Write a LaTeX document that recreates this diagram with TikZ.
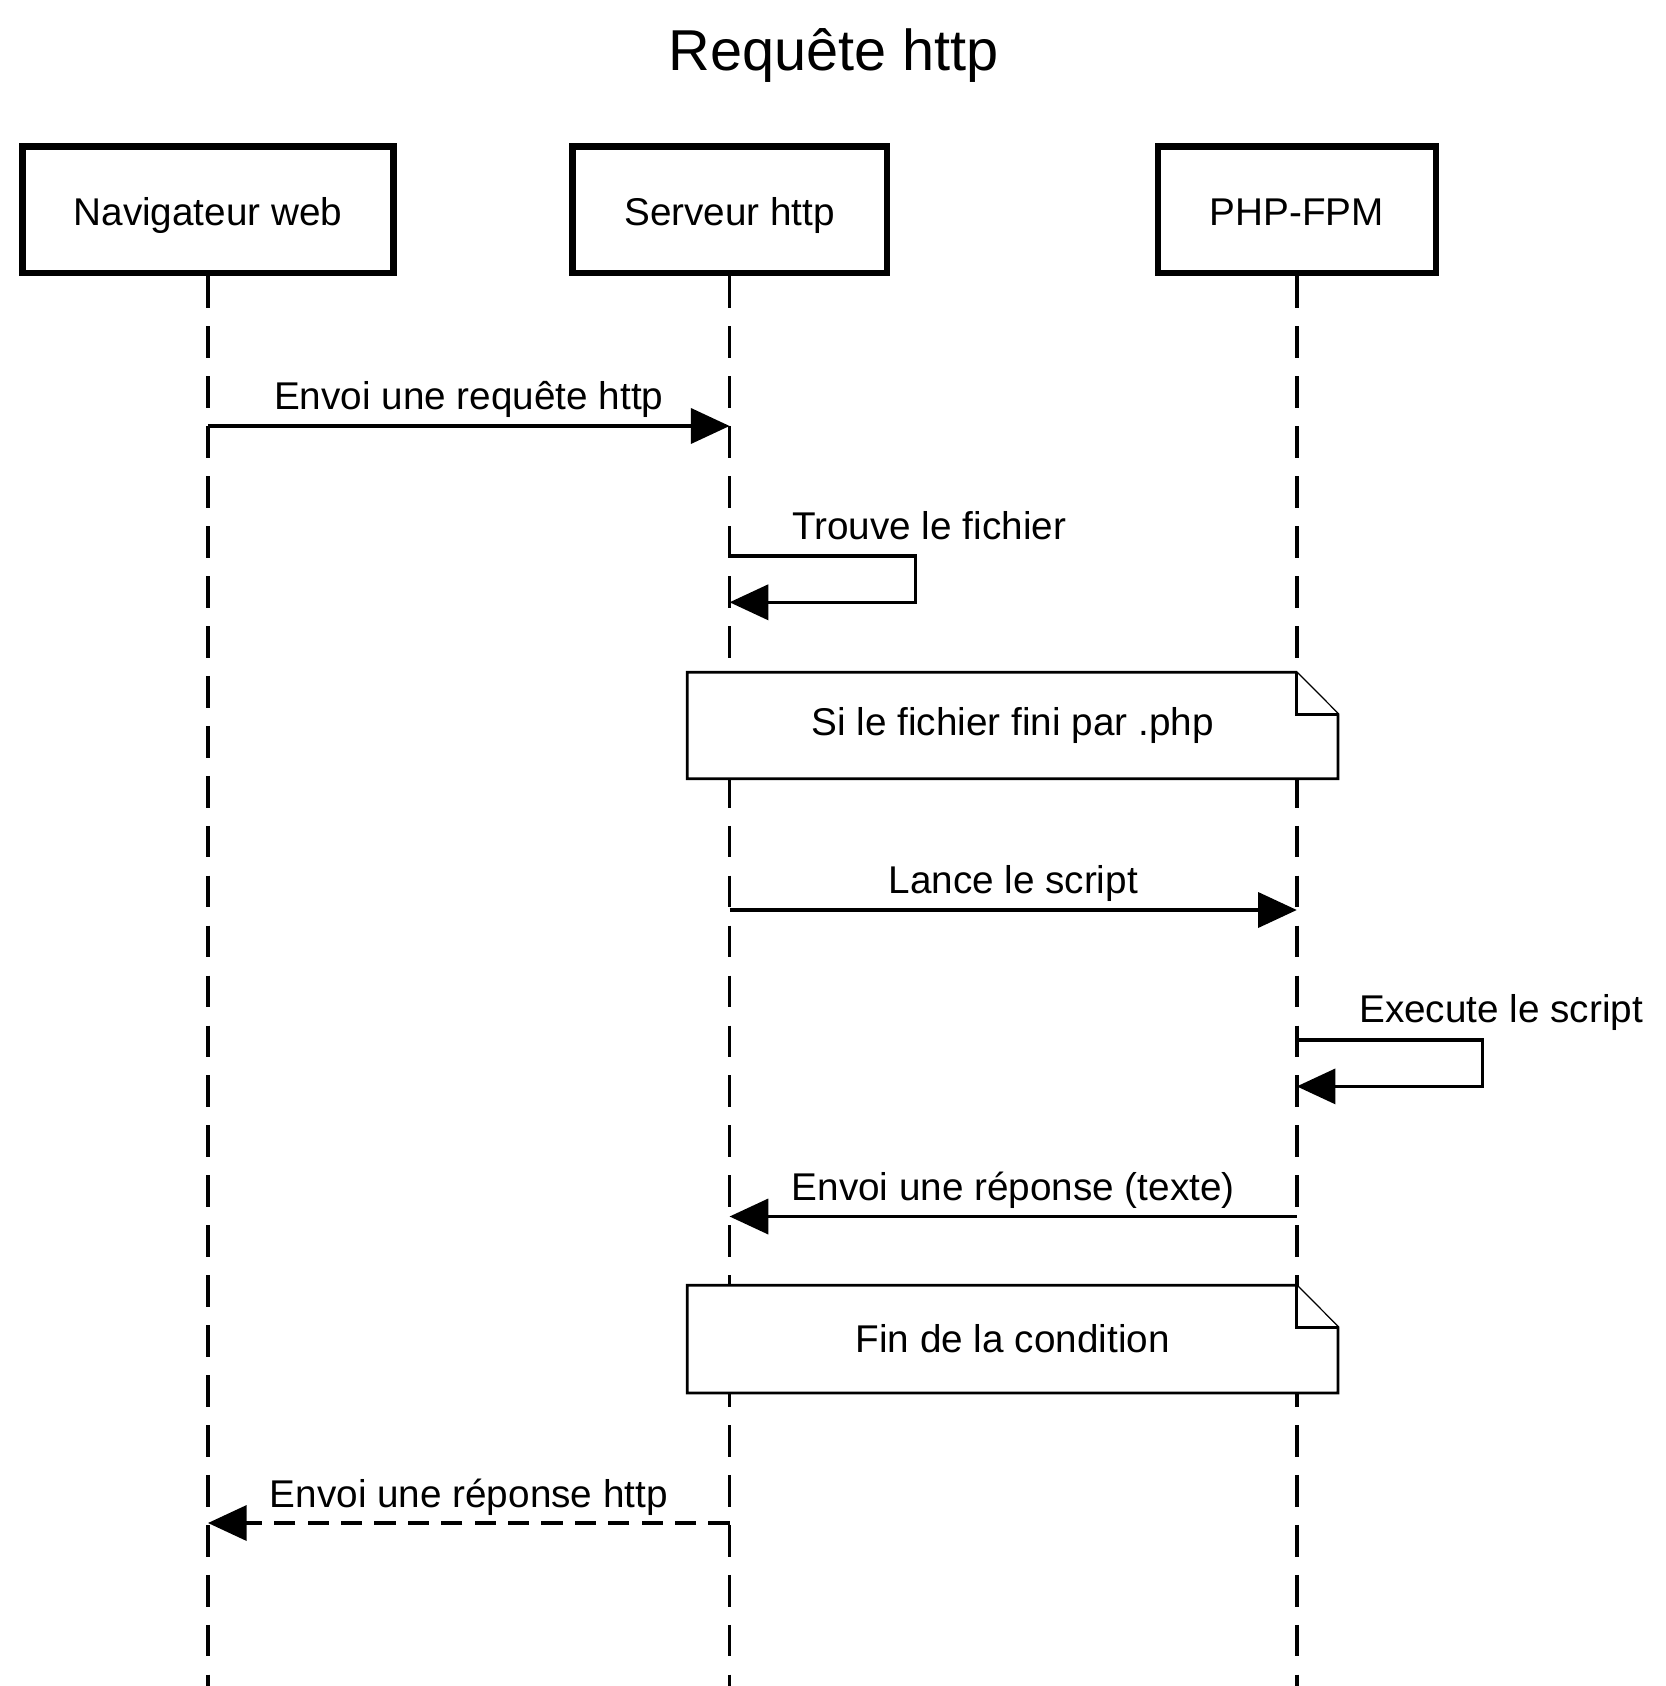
\documentclass[tikz,border=0pt]{standalone}
\usepackage{fontspec}
\setmainfont{Liberation Sans}
\usetikzlibrary{arrows.meta}
\usetikzlibrary{positioning}

\tikzset{
  actor/.style={draw, line width=1.8pt, minimum height=1.266cm, text height=0.316cm, text depth=0pt, font=\fontsize{11}{13}\selectfont},
  lifeline/.style={line width=1pt, dash pattern=on 9pt off 5.2pt},
  msg/.style={line width=0.9pt, -{Triangle[length=11pt,width=10pt]}},
  reply/.style={msg, dash pattern=on 6pt off 3.5pt},
  msglabel/.style={inner sep=0pt, font=\fontsize{11}{13}\selectfont},
  note/.style={draw, fill=white, line width=0.8pt},
}

\begin{document}
\begin{tikzpicture}[x=0.01cm, y=-0.01cm]
          \useasboundingbox (0,0) rectangle (1665,1686);
          \node[anchor=base, font=\fontsize{16.4}{20}\selectfont] (title) at (833.6,71) {Requête http};

          \node[actor, minimum width=3.71cm] (nav) at (208,210) {Navigateur web};
          \node[actor, minimum width=3.141cm, right=1.724cm of nav] (srv) {Serveur http};
          \node[actor, minimum width=2.776cm, right=2.647cm of srv] (php) {PHP-FPM};

          % lifelines
          \coordinate (navend) at (nav |- 0,1686);
          \coordinate (srvend) at (srv |- 0,1686);
          \coordinate (phpend) at (php |- 0,1686);
          \draw[lifeline] (nav) -- (navend);
          \draw[lifeline] (srv) -- (srvend);
          \draw[lifeline] (php) -- (phpend);

          \coordinate (req1) at (nav |- 0,426);
          \coordinate (req2) at (srv |- 0,426);
          \coordinate (find1) at (srv |- 0,556);
          \coordinate (find2) at (srv |- 0,602.3);
          \coordinate (run1) at (srv |- 0,910);
          \coordinate (run2) at (php |- 0,910);
          \coordinate (exec1) at (php |- 0,1040);
          \coordinate (exec2) at (php |- 0,1086.4);
          \coordinate (txt1) at (php |- 0,1216.5);
          \coordinate (txt2) at (srv |- 0,1216.5);
          \coordinate (resp1) at (srv |- 0,1523);
          \coordinate (resp2) at (nav |- 0,1523);

          \draw[msg] (req1) -- node[msglabel, anchor=base, yshift=0.16cm]{Envoi une requête http} (req2);
          \draw[msg] (find1) -- ++(186,0) |- (find2);
          \node[msglabel, anchor=base west] (findlbl) at (791.6,540) {Trouve le fichier};

          % note 1
          \draw[note] (687.3,672.3) -- (1296.1,672.3) -- (1338,714.3) -- (1338,778.7) -- (687.3,778.7) -- cycle;
          \draw[note] (1296.1,672.3) -- (1296.1,714.3) -- (1338,714.3);
          \node[msglabel] (cond1) at (1012.7,725.5) {Si le fichier fini par .php};

          \draw[msg] (run1) -- node[msglabel, anchor=base, yshift=0.16cm]{Lance le script} (run2);
          \draw[msg] (exec1) -- ++(186,0) |- (exec2);
          \node[msglabel, anchor=base west] (execlbl) at (1358.5,1022) {Execute le script};
          \draw[msg] (txt1) -- node[msglabel, anchor=base, yshift=0.16cm]{Envoi une réponse (texte)} (txt2);

          % note 2
          \draw[note] (687.3,1285.3) -- (1296.1,1285.3) -- (1338,1327.3) -- (1338,1393) -- (687.3,1393) -- cycle;
          \draw[note] (1296.1,1285.3) -- (1296.1,1327.3) -- (1338,1327.3);
          \node[msglabel] (cond2) at (1012.7,1339) {Fin de la condition};

          \draw[reply] (resp1) -- node[msglabel, anchor=base, yshift=0.16cm]{Envoi une réponse http} (resp2);
        \end{tikzpicture}
\end{document}
